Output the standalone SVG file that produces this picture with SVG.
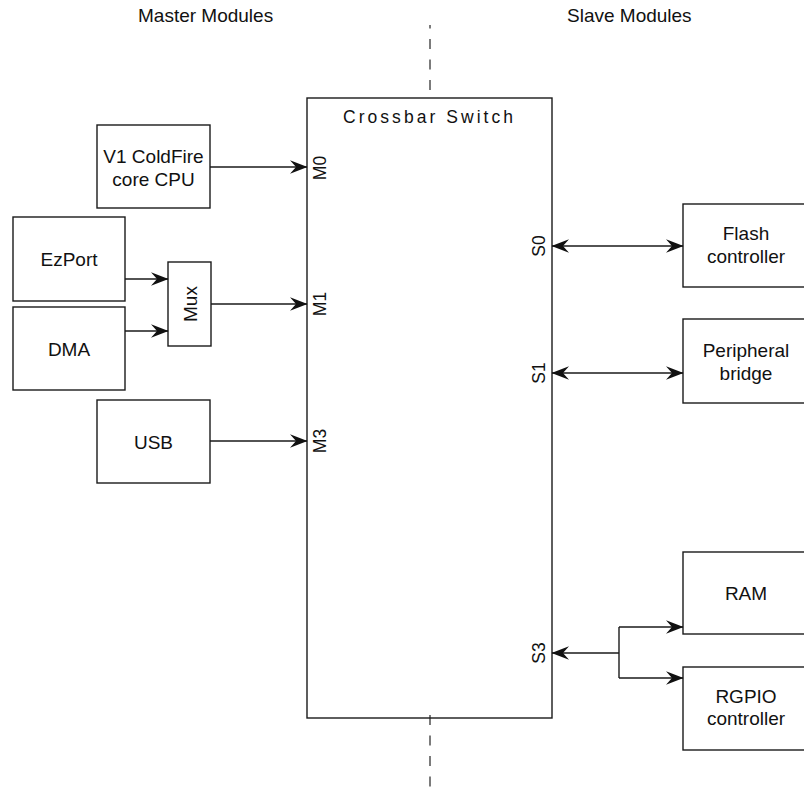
<svg xmlns="http://www.w3.org/2000/svg" width="804" height="787" viewBox="0 0 804 787">
<style>
.box{fill:none;stroke:#1a1a1a;stroke-width:1.4}
.ln{fill:none;stroke:#1a1a1a;stroke-width:1.4}
.t{font-family:"Liberation Sans",Arial,sans-serif;font-size:19px;fill:#111;text-anchor:middle}
.h{font-family:"Liberation Sans",Arial,sans-serif;font-size:19px;fill:#111}
.p{font-family:"Liberation Sans",Arial,sans-serif;font-size:17.5px;fill:#111;text-anchor:middle}
.dash{stroke:#444;stroke-width:1.4;stroke-dasharray:10 10.5}
</style>
<defs>
<marker id="arr" markerUnits="userSpaceOnUse" markerWidth="20" markerHeight="16" viewBox="-19 -8 20 16" refX="0" refY="0" orient="auto-start-reverse">
<path d="M0.5,0 L-17,-6.8 L-11,0 L-17,6.8 Z" fill="#111"/>
</marker>
</defs>
<rect width="804" height="787" fill="#fff"/>
<text class="h" x="138" y="22">Master Modules</text>
<text class="h" x="567" y="22">Slave Modules</text>
<g id="divider">
<line class="dash" x1="430" y1="90" x2="430" y2="25"/>
<line class="dash" x1="430" y1="715" x2="430" y2="787"/>
</g>
<g id="crossbar">
<rect class="box" x="307" y="98" width="245" height="620"/>
<text class="h" x="343" y="123" textLength="170" lengthAdjust="spacing" style="font-size:17.5px">Crossbar Switch</text>
<text class="p" transform="translate(326,168) rotate(-90)">M0</text>
<text class="p" transform="translate(326,304) rotate(-90)">M1</text>
<text class="p" transform="translate(326,441) rotate(-90)">M3</text>
<text class="p" transform="translate(545,246) rotate(-90)">S0</text>
<text class="p" transform="translate(545,373) rotate(-90)">S1</text>
<text class="p" transform="translate(545,653) rotate(-90)">S3</text>
</g>
<g id="cpu">
<rect class="box" x="97" y="125" width="113" height="83"/>
<text class="t" x="153.5" y="163">V1 ColdFire</text>
<text class="t" x="153.5" y="186">core CPU</text>
</g>
<g id="ezport">
<rect class="box" x="13" y="217" width="112" height="84"/>
<text class="t" x="69" y="266">EzPort</text>
</g>
<g id="dma">
<rect class="box" x="13" y="307" width="112" height="83"/>
<text class="t" x="69" y="356">DMA</text>
</g>
<g id="mux">
<rect class="box" x="168" y="262" width="43" height="84"/>
<text class="t" transform="translate(196.5,304) rotate(-90)">Mux</text>
</g>
<g id="usb">
<rect class="box" x="97" y="400" width="113" height="83"/>
<text class="t" x="153.5" y="449">USB</text>
</g>
<g id="flash">
<rect class="box" x="683" y="204" width="126" height="83"/>
<text class="t" x="746" y="240">Flash</text>
<text class="t" x="746" y="263">controller</text>
</g>
<g id="bridge">
<rect class="box" x="683" y="319" width="126" height="84"/>
<text class="t" x="746" y="357">Peripheral</text>
<text class="t" x="746" y="380">bridge</text>
</g>
<g id="ram">
<rect class="box" x="683" y="552" width="126" height="82"/>
<text class="t" x="746" y="600">RAM</text>
</g>
<g id="rgpio">
<rect class="box" x="683" y="667" width="126" height="83"/>
<text class="t" x="746" y="703">RGPIO</text>
<text class="t" x="746" y="725">controller</text>
</g>
<g id="connectors">
<line class="ln" x1="210" y1="167" x2="307" y2="167" marker-end="url(#arr)"/>
<line class="ln" x1="125" y1="279" x2="168" y2="279" marker-end="url(#arr)"/>
<line class="ln" x1="125" y1="331" x2="168" y2="331" marker-end="url(#arr)"/>
<line class="ln" x1="211" y1="304" x2="307" y2="304" marker-end="url(#arr)"/>
<line class="ln" x1="210" y1="441" x2="307" y2="441" marker-end="url(#arr)"/>
<line class="ln" x1="552" y1="246" x2="683" y2="246" marker-start="url(#arr)" marker-end="url(#arr)"/>
<line class="ln" x1="552" y1="373" x2="683" y2="373" marker-start="url(#arr)" marker-end="url(#arr)"/>
<line class="ln" x1="619" y1="653" x2="552" y2="653" marker-end="url(#arr)"/>
<line class="ln" x1="619" y1="627" x2="619" y2="678"/>
<line class="ln" x1="619" y1="627" x2="683" y2="627" marker-end="url(#arr)"/>
<line class="ln" x1="619" y1="678" x2="683" y2="678" marker-end="url(#arr)"/>
</g>
</svg>
